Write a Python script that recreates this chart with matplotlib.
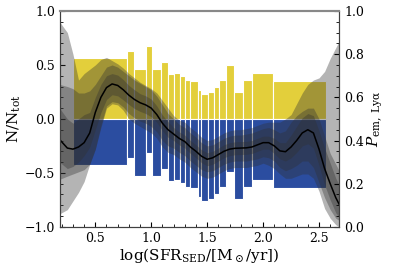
import numpy as np
import matplotlib
matplotlib.use("Agg")
import matplotlib.pyplot as plt

plt.rcParams['font.family'] = 'DejaVu Serif'
plt.rcParams['mathtext.fontset'] = 'dejavuserif'
plt.rcParams['font.size'] = 9

# histogram bins (log SFR) and fractions
bin_edges = [0.30, 0.779, 0.845, 0.951, 1.005, 1.083, 1.149, 1.202, 1.256, 1.304, 1.345,
             1.416, 1.448, 1.508, 1.559, 1.606, 1.665, 1.743, 1.82, 1.905, 2.093, 2.56]
frac_em = [0.562, 0.632, 0.465, 0.676, 0.465, 0.528, 0.417, 0.429, 0.395, 0.364, 0.352,
           0.264, 0.231, 0.252, 0.298, 0.361, 0.497, 0.252, 0.361, 0.429, 0.351]
frac_non = [0.426, 0.362, 0.530, 0.320, 0.530, 0.463, 0.574, 0.562, 0.596, 0.628, 0.638,
            0.727, 0.760, 0.738, 0.694, 0.627, 0.494, 0.738, 0.627, 0.565, 0.642]

# probability curve and credible bands
sfr = [0.18, 0.25, 0.3, 0.35, 0.4, 0.45, 0.5, 0.55, 0.6, 0.65, 0.7, 0.75, 0.8, 0.85, 0.9,
       0.95, 1.0, 1.05, 1.1, 1.15, 1.2, 1.25, 1.3, 1.35, 1.4, 1.45, 1.5, 1.55, 1.6, 1.65,
       1.7, 1.75, 1.8, 1.85, 1.9, 1.95, 2.0, 2.05, 2.1, 2.15, 2.2, 2.25, 2.3, 2.35, 2.4,
       2.45, 2.5, 2.55, 2.6, 2.65, 2.68]
p_med = [0.405, 0.365, 0.36, 0.37, 0.39, 0.435, 0.53, 0.60, 0.645, 0.662, 0.655, 0.635, 0.61,
         0.59, 0.575, 0.565, 0.55, 0.52, 0.48, 0.45, 0.43, 0.41, 0.395, 0.37, 0.35, 0.327,
         0.313, 0.32, 0.335, 0.35, 0.36, 0.364, 0.365, 0.366, 0.37, 0.38, 0.39, 0.39, 0.375,
         0.352, 0.348, 0.37, 0.40, 0.435, 0.45, 0.435, 0.36, 0.27, 0.20, 0.135, 0.105]
p_lo1 = [0.30, 0.27, 0.28, 0.30, 0.33, 0.37, 0.45, 0.53, 0.59, 0.612, 0.607, 0.588, 0.567,
         0.548, 0.535, 0.525, 0.51, 0.484, 0.445, 0.415, 0.40, 0.38, 0.365, 0.34, 0.32, 0.297,
         0.283, 0.29, 0.305, 0.32, 0.33, 0.334, 0.335, 0.336, 0.34, 0.35, 0.36, 0.36, 0.34,
         0.315, 0.305, 0.32, 0.345, 0.375, 0.385, 0.365, 0.285, 0.195, 0.125, 0.065, 0.045]
p_hi1 = [0.55, 0.50, 0.48, 0.50, 0.52, 0.53, 0.60, 0.66, 0.70, 0.71, 0.703, 0.682, 0.655,
         0.635, 0.617, 0.607, 0.592, 0.56, 0.518, 0.487, 0.46, 0.44, 0.425, 0.40, 0.38, 0.357,
         0.343, 0.35, 0.365, 0.38, 0.39, 0.394, 0.395, 0.396, 0.40, 0.41, 0.42, 0.42, 0.41,
         0.39, 0.39, 0.425, 0.465, 0.505, 0.525, 0.515, 0.445, 0.365, 0.295, 0.225, 0.195]
p_lo2 = [0.22, 0.235, 0.245, 0.255, 0.265, 0.29, 0.36, 0.47, 0.56, 0.58, 0.575, 0.555, 0.525,
         0.505, 0.49, 0.48, 0.465, 0.44, 0.40, 0.375, 0.365, 0.345, 0.33, 0.305, 0.285, 0.265,
         0.255, 0.26, 0.275, 0.29, 0.30, 0.305, 0.305, 0.305, 0.31, 0.315, 0.325, 0.32, 0.305,
         0.275, 0.26, 0.27, 0.285, 0.305, 0.305, 0.275, 0.205, 0.135, 0.08, 0.04, 0.03]
p_hi2 = [0.66, 0.65, 0.64, 0.62, 0.62, 0.63, 0.66, 0.70, 0.74, 0.75, 0.74, 0.72, 0.70,
         0.68, 0.665, 0.65, 0.635, 0.605, 0.565, 0.525, 0.50, 0.475, 0.46, 0.435, 0.415, 0.39,
         0.375, 0.38, 0.395, 0.41, 0.42, 0.425, 0.425, 0.43, 0.435, 0.445, 0.455, 0.46, 0.45,
         0.435, 0.445, 0.485, 0.515, 0.535, 0.55, 0.55, 0.50, 0.42, 0.34, 0.29, 0.26]
p_lo3 = [0.06, 0.08, 0.12, 0.16, 0.21, 0.29, 0.36, 0.46, 0.55, 0.57, 0.565, 0.54, 0.50,
         0.48, 0.465, 0.45, 0.435, 0.41, 0.37, 0.345, 0.335, 0.315, 0.30, 0.275, 0.255, 0.235,
         0.225, 0.23, 0.245, 0.26, 0.27, 0.275, 0.275, 0.275, 0.28, 0.285, 0.295, 0.285, 0.27,
         0.245, 0.225, 0.225, 0.235, 0.245, 0.245, 0.225, 0.165, 0.085, 0.04, 0.01, 0.0]
p_hi3 = [0.95, 0.90, 0.80, 0.68, 0.71, 0.73, 0.75, 0.775, 0.785, 0.77, 0.755, 0.735, 0.71,
         0.69, 0.67, 0.655, 0.64, 0.62, 0.585, 0.55, 0.515, 0.495, 0.485, 0.46, 0.44, 0.415,
         0.40, 0.405, 0.42, 0.435, 0.445, 0.45, 0.45, 0.455, 0.46, 0.47, 0.48, 0.485, 0.485,
         0.485, 0.50, 0.52, 0.57, 0.62, 0.66, 0.68, 0.69, 0.72, 0.78, 0.83, 0.86]

fig = plt.figure(figsize=(3.99, 2.74), dpi=100)
ax = fig.add_axes([0.150, 0.172, 0.700, 0.788])

left = np.array(bin_edges[:-1])
width = np.diff(bin_edges)
ax.bar(left, frac_em, width=width, align='edge', color='#e3cf3b', edgecolor='white', linewidth=0.8)
ax.bar(left, -np.array(frac_non), width=width, align='edge', color='#2b4da0', edgecolor='white', linewidth=0.8)

ax.set_xlim(0.183, 2.68)
ax.set_ylim(-1, 1)
ax.set_xticks([0.5, 1.0, 1.5, 2.0, 2.5])
ax.set_yticks([-1.0, -0.5, 0.0, 0.5, 1.0])
ax.minorticks_on()
ax.tick_params(which='both', direction='in', top=False)
ax.set_ylabel(r'$\mathrm{N/N_{tot}}$', fontsize=11, labelpad=1)
ax.set_xlabel(r'$\log(\mathrm{SFR_{SED}}/[\mathrm{M_\odot/yr}])$', fontsize=11, labelpad=1)

ax2 = ax.twinx()
band_col = '#303030'
ax2.fill_between(sfr, p_lo3, p_hi3, color=band_col, alpha=0.36, linewidth=0)
ax2.fill_between(sfr, p_lo2, p_hi2, color=band_col, alpha=0.36, linewidth=0)
ax2.fill_between(sfr, p_lo1, p_hi1, color=band_col, alpha=0.36, linewidth=0)
ax2.plot(sfr, p_med, color='k', lw=1.1)
ax2.set_ylim(0, 1)
ax2.set_yticks([0.0, 0.2, 0.4, 0.6, 0.8, 1.0])
ax2.minorticks_on()
ax2.tick_params(which='both', direction='in')
ax2.set_ylabel(r'$P_{\mathrm{em,\,Ly\alpha}}$', fontsize=11, labelpad=1)

for a in (ax, ax2):
    for s in ('left', 'right', 'bottom'):
        a.spines[s].set_color('#404040')
    a.spines['top'].set_color('#888888')
    a.spines['top'].set_linewidth(1.5)

fig.savefig('out.png', dpi=100)
